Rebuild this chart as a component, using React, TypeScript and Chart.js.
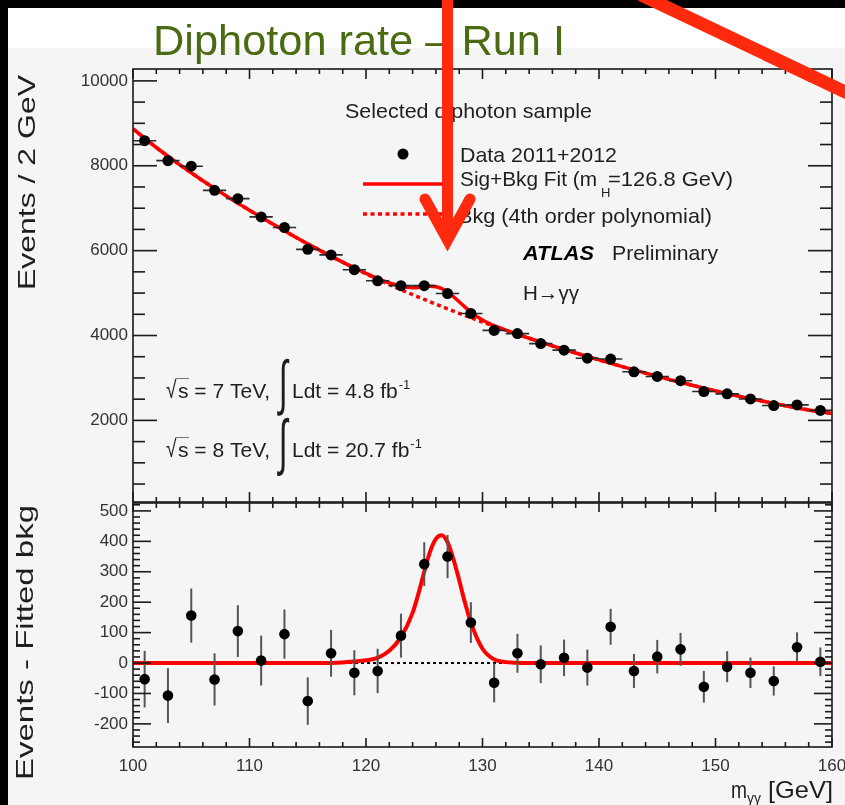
import React, { useEffect, useRef } from "react";
import { Chart, registerables } from "chart.js";

Chart.register(...registerables);

// ---------------- data ----------------
const binCenters = [101, 103, 105, 107, 109, 111, 113, 115, 117, 119, 121, 123, 125, 127, 129, 131, 133, 135, 137, 139, 141, 143, 145, 147, 149, 151, 153, 155, 157, 159];
const dataCounts = [8590, 8120, 7990, 7420, 7225, 6795, 6545, 6030, 5900, 5550, 5290, 5175, 5175, 4990, 4520, 4120, 4045, 3810, 3655, 3465, 3445, 3145, 3035, 2935, 2680, 2625, 2505, 2350, 2365, 2235];
const countErrors = [93, 90, 89, 86, 85, 82, 81, 78, 77, 74, 73, 72, 72, 71, 67, 64, 64, 62, 60, 59, 59, 56, 55, 54, 52, 51, 50, 48, 49, 47];
const binHalfWidth = 1;
const residuals = [-53, -107, 156, -54, 105, 8, 95, -125, 32, -32, -26, 90, 325, 350, 133, -65, 32, -4, 17, -15, 119, -26, 21, 45, -78, -12, -32, -59, 52, 4];

const fitMass = [100, 102, 104, 106, 108, 110, 112, 114, 116, 118, 119, 120, 121, 122, 123, 124, 124.5, 125, 125.5, 126, 126.5, 127, 127.5, 128, 128.5, 129, 130, 131, 132, 133, 134, 136, 138, 140, 142, 144, 146, 148, 150, 152, 154, 156, 158, 160];
const bkgFit = [8870, 8430, 8025, 7645, 7290, 6950, 6625, 6310, 6012, 5727, 5590, 5455, 5325, 5200, 5080, 4963, 4906, 4850, 4795, 4740, 4685, 4630, 4576, 4523, 4471, 4420, 4318, 4220, 4123, 4030, 3936, 3757, 3587, 3425, 3267, 3115, 2967, 2827, 2695, 2570, 2455, 2347, 2247, 2160];
const sigFit = [0, 0, 0, 0, 0, 0, 0, 0, 0, 2, 5, 9, 17, 40, 85, 165, 228, 300, 366, 408, 420, 397, 342, 272, 198, 133, 47, 12, 3, 1, 0, 0, 0, 0, 0, 0, 0, 0, 0, 0, 0, 0, 0, 0];

const xTickValues = [100, 110, 120, 130, 140, 150, 160];
const yTicksTop = [2000, 4000, 6000, 8000, 10000];
const yTicksBottom = [-200, -100, 0, 100, 200, 300, 400, 500];

// ---------------- styles ----------------
const FONT = '"Liberation Sans", Arial, Helvetica, sans-serif';
const TEXT = "#1e1e1e";
const FRAME = "#1a1a1a";
const RED = "#ff0000";
const TITLE = "#4a6b12";
const ARROW = "#ff2a0e";

type TOpts = { size: number; w?: number; color?: string; bold?: boolean; italic?: boolean; rot?: boolean };

function drawText(ctx: CanvasRenderingContext2D, s: string, x: number, y: number, o: TOpts): number {
  ctx.save();
  ctx.font = `${o.italic ? "italic " : ""}${o.bold ? "bold " : ""}${o.size}px ${FONT}`;
  ctx.fillStyle = o.color || TEXT;
  ctx.textAlign = "left";
  ctx.textBaseline = "alphabetic";
  const nat = ctx.measureText(s).width;
  const sx = o.w ? o.w / nat : 1;
  ctx.translate(x, y);
  if (o.rot) ctx.rotate(-Math.PI / 2);
  ctx.scale(sx, 1);
  ctx.fillText(s, 0, 0);
  ctx.restore();
  return nat * sx;
}

function drawGlyphBox(ctx: CanvasRenderingContext2D, s: string, left: number, top: number, right: number, bottom: number, size: number, color: string) {
  ctx.save();
  ctx.font = `${size}px ${FONT}`;
  ctx.fillStyle = color;
  ctx.textAlign = "left";
  ctx.textBaseline = "alphabetic";
  const m = ctx.measureText(s);
  const asc = m.actualBoundingBoxAscent, desc = m.actualBoundingBoxDescent;
  const l = m.actualBoundingBoxLeft, r = m.actualBoundingBoxRight;
  const sy = (bottom - top) / (asc + desc);
  const sx = (right - left) / (l + r);
  ctx.translate(left + l * sx, top + asc * sy);
  ctx.scale(sx, sy);
  ctx.fillText(s, 0, 0);
  ctx.restore();
}

function seg(ctx: CanvasRenderingContext2D, x1: number, y1: number, x2: number, y2: number, color: string, w: number, dash: number[] = []) {
  ctx.save();
  ctx.strokeStyle = color;
  ctx.lineWidth = w;
  ctx.setLineDash(dash);
  ctx.beginPath();
  ctx.moveTo(x1, y1);
  ctx.lineTo(x2, y2);
  ctx.stroke();
  ctx.restore();
}

function makeFrame(o: { xStep: number; yStep: number; xMaj: number; xMin: number; yMaj: number; yMin: number; lw: number }) {
  return {
    id: "rootFrame",
    afterDatasetsDraw(chart: any) {
      const { ctx, chartArea: a } = chart;
      const xs = chart.scales.x, ys = chart.scales.y;
      const majX = xs.ticks.map((t: any) => t.value);
      const majY = ys.ticks.map((t: any) => t.value);
      const isMaj = (arr: number[], v: number) => arr.some((m) => Math.abs(m - v) < 1e-6);
      ctx.save();
      ctx.strokeStyle = FRAME;
      ctx.lineWidth = o.lw;
      const line = (x1: number, y1: number, x2: number, y2: number) => {
        ctx.beginPath();
        ctx.moveTo(x1, y1);
        ctx.lineTo(x2, y2);
        ctx.stroke();
      };
      for (let v = Math.ceil(xs.min / o.xStep) * o.xStep; v <= xs.max + 1e-9; v += o.xStep) {
        const p = xs.getPixelForValue(v);
        const len = isMaj(majX, v) ? o.xMaj : o.xMin;
        line(p, a.bottom, p, a.bottom - len);
        line(p, a.top, p, a.top + len);
      }
      for (let v = Math.ceil(ys.min / o.yStep) * o.yStep; v <= ys.max + 1e-9; v += o.yStep) {
        const p = ys.getPixelForValue(v);
        const len = isMaj(majY, v) ? o.yMaj : o.yMin;
        line(a.left, p, a.left + len, p);
        line(a.right, p, a.right - len, p);
      }
      ctx.strokeRect(a.left, a.top, a.right - a.left, a.bottom - a.top);
      ctx.restore();
    },
  };
}

function makeErrorBars(o: { index: number; xs: number[]; ys: number[]; xErr?: number; yErr?: number[]; color: string; width: number }) {
  return {
    id: "errorBars",
    beforeDatasetDraw(chart: any, args: any) {
      if (args.index !== o.index) return;
      const { ctx, chartArea: a } = chart;
      const sx = chart.scales.x, sy = chart.scales.y;
      ctx.save();
      ctx.beginPath();
      ctx.rect(a.left, a.top, a.right - a.left, a.bottom - a.top);
      ctx.clip();
      ctx.strokeStyle = o.color;
      ctx.lineWidth = o.width;
      o.xs.forEach((x, i) => {
        const y = o.ys[i];
        const px = sx.getPixelForValue(x), py = sy.getPixelForValue(y);
        ctx.beginPath();
        if (o.xErr) {
          ctx.moveTo(sx.getPixelForValue(x - o.xErr), py);
          ctx.lineTo(sx.getPixelForValue(x + o.xErr), py);
        }
        if (o.yErr) {
          ctx.moveTo(px, sy.getPixelForValue(y - o.yErr[i]));
          ctx.lineTo(px, sy.getPixelForValue(y + o.yErr[i]));
        }
        ctx.stroke();
      });
      ctx.restore();
    },
  };
}

function lumiLine(ctx: CanvasRenderingContext2D, energy: string, lumi: string, base: number, iTop: number, iBot: number) {
  drawGlyphBox(ctx, "√", 166, base - 20, 177, base + 1, 21, TEXT);
  seg(ctx, 176, base - 19.5, 189, base - 19.5, "#777", 1);
  drawText(ctx, `s = ${energy} TeV,`, 178, base, { size: 21 });
  drawGlyphBox(ctx, "∫", 277, iTop, 290, iBot, 40, TEXT);
  const w = drawText(ctx, `Ldt = ${lumi} fb`, 292, base, { size: 21 });
  drawText(ctx, "-1", 292 + w + 1, base - 9, { size: 13 });
}

const topDecor = {
  id: "topDecor",
  afterDraw(chart: any) {
    const ctx: CanvasRenderingContext2D = chart.ctx;
    drawText(ctx, "Diphoton rate – Run I", 153, 55, { size: 42, w: 412, color: TITLE });
    drawText(ctx, "Events / 2 GeV", 35, 290, { size: 24, w: 215, rot: true });
    // legend
    drawText(ctx, "Selected diphoton sample", 345, 118, { size: 21, w: 247 });
    ctx.save();
    ctx.fillStyle = "#000";
    ctx.beginPath();
    ctx.arc(403, 154, 5.5, 0, Math.PI * 2);
    ctx.fill();
    ctx.restore();
    drawText(ctx, "Data 2011+2012", 460, 162, { size: 21, w: 157 });
    seg(ctx, 363, 184, 446, 184, RED, 3.5);
    drawText(ctx, "Sig+Bkg Fit (m", 460, 186, { size: 21, w: 137 });
    drawText(ctx, "H", 601, 197, { size: 13 });
    drawText(ctx, "=126.8 GeV)", 608, 186, { size: 21, w: 125 });
    seg(ctx, 363, 214, 446, 214, RED, 3.5, [4, 3.5]);
    drawText(ctx, "Bkg (4th order polynomial)", 458, 223, { size: 21, w: 254 });
    drawText(ctx, "ATLAS", 523, 260, { size: 21, w: 71, bold: true, italic: true, color: "#000" });
    drawText(ctx, "Preliminary", 612, 260, { size: 21, w: 106 });
    drawText(ctx, "H→γγ", 523, 300, { size: 21, w: 56 });
    lumiLine(ctx, "7", "4.8", 398, 358, 417);
    lumiLine(ctx, "8", "20.7", 457, 417, 477);
  },
};

const bottomDecor = {
  id: "bottomDecor",
  afterDraw(chart: any) {
    const ctx: CanvasRenderingContext2D = chart.ctx;
    drawText(ctx, "Events - Fitted bkg", 33, 295, { size: 24, w: 275, rot: true });
    drawText(ctx, "m", 731, 313, { size: 23, w: 16 });
    drawText(ctx, "γγ", 747, 318, { size: 14, w: 14 });
    drawText(ctx, "[GeV]", 768, 313, { size: 24, w: 65 });
  },
};

const tickFont = { family: FONT, size: 17 };

function topConfig(): any {
  return {
    type: "scatter",
    data: {
      datasets: [
        {
          label: "Data 2011+2012",
          data: binCenters.map((x, i) => ({ x, y: dataCounts[i] })),
          pointRadius: 5.5,
          pointBackgroundColor: "#000",
          pointBorderWidth: 0,
          showLine: false,
        },
        {
          label: "Sig+Bkg Fit",
          data: fitMass.map((x, i) => ({ x, y: bkgFit[i] + sigFit[i] })),
          showLine: true,
          borderColor: RED,
          borderWidth: 3.5,
          pointRadius: 0,
          cubicInterpolationMode: "monotone",
        },
        {
          label: "Bkg",
          data: fitMass.map((x, i) => ({ x, y: bkgFit[i] })),
          showLine: true,
          borderColor: RED,
          borderWidth: 3.5,
          borderDash: [4, 3.5],
          pointRadius: 0,
          cubicInterpolationMode: "monotone",
        },
      ],
    },
    options: {
      animation: false,
      responsive: false,
      maintainAspectRatio: false,
      events: [],
      layout: { padding: { left: 0, right: 13, top: 69, bottom: 0 } },
      plugins: { legend: { display: false }, tooltip: { enabled: false }, title: { display: false } },
      scales: {
        x: {
          type: "linear",
          min: 100,
          max: 160,
          grid: { display: false, drawTicks: false },
          border: { display: false },
          ticks: { display: false },
          afterBuildTicks: (s: any) => { s.ticks = xTickValues.map((v) => ({ value: v })); },
          afterFit: (s: any) => { s.height = 18; },
        },
        y: {
          type: "linear",
          min: 77,
          max: 10280,
          grid: { display: false, drawTicks: false },
          border: { display: false },
          ticks: { font: tickFont, color: "#333", padding: 5, callback: (v: any) => String(v) },
          afterBuildTicks: (s: any) => { s.ticks = yTicksTop.map((v) => ({ value: v })); },
          afterFit: (s: any) => { s.width = 133; },
        },
      },
    },
    plugins: [
      makeErrorBars({ index: 0, xs: binCenters, ys: dataCounts, xErr: binHalfWidth, yErr: countErrors, color: "#2a2a2a", width: 1.6 }),
      makeFrame({ xStep: 2, yStep: 500, xMaj: 10, xMin: 5, yMaj: 24, yMin: 12, lw: 1.6 }),
      topDecor,
    ],
  };
}

function bottomConfig(): any {
  return {
    type: "scatter",
    data: {
      datasets: [
        {
          label: "Data - bkg",
          data: binCenters.map((x, i) => ({ x, y: residuals[i] })),
          pointRadius: 5.3,
          pointBackgroundColor: "#000",
          pointBorderWidth: 0,
          showLine: false,
        },
        {
          label: "Signal",
          data: fitMass.map((x, i) => ({ x, y: sigFit[i] })),
          showLine: true,
          borderColor: RED,
          borderWidth: 4,
          pointRadius: 0,
          cubicInterpolationMode: "monotone",
        },
        {
          label: "Bkg",
          data: [{ x: 100, y: 0 }, { x: 160, y: 0 }],
          showLine: true,
          borderColor: "#000",
          borderWidth: 2,
          borderDash: [3, 3],
          pointRadius: 0,
        },
      ],
    },
    options: {
      animation: false,
      responsive: false,
      maintainAspectRatio: false,
      events: [],
      layout: { padding: { left: 0, right: 38, top: 18, bottom: 0 } },
      plugins: { legend: { display: false }, tooltip: { enabled: false }, title: { display: false } },
      scales: {
        x: {
          type: "linear",
          min: 100,
          max: 160,
          grid: { display: false, drawTicks: false },
          border: { display: false },
          ticks: { font: tickFont, color: "#333", padding: 9, maxRotation: 0, callback: (v: any) => String(v) },
          afterBuildTicks: (s: any) => { s.ticks = xTickValues.map((v) => ({ value: v })); },
          afterFit: (s: any) => { s.height = 58; },
        },
        y: {
          type: "linear",
          min: -276,
          max: 526,
          grid: { display: false, drawTicks: false },
          border: { display: false },
          ticks: { font: tickFont, color: "#333", padding: 5, callback: (v: any) => String(v) },
          afterBuildTicks: (s: any) => { s.ticks = yTicksBottom.map((v) => ({ value: v })); },
          afterFit: (s: any) => { s.width = 133; },
        },
      },
    },
    plugins: [
      makeErrorBars({ index: 0, xs: binCenters, ys: residuals, yErr: countErrors, color: "#555", width: 2 }),
      makeFrame({ xStep: 2, yStep: 20, xMaj: 9, xMin: 5, yMaj: 18, yMin: 7, lw: 1.6 }),
      bottomDecor,
    ],
  };
}

export default function App() {
  const topRef = useRef<HTMLCanvasElement>(null);
  const botRef = useRef<HTMLCanvasElement>(null);

  useEffect(() => {
    const c1 = new Chart(topRef.current as HTMLCanvasElement, topConfig());
    const c2 = new Chart(botRef.current as HTMLCanvasElement, bottomConfig());
    return () => {
      c1.destroy();
      c2.destroy();
    };
  }, []);

  return (
    <div style={{ position: "fixed", left: 0, top: 0, width: 845, height: 805, overflow: "hidden", background: "#f5f5f5" }}>
      <div style={{ position: "absolute", left: 0, top: 8, width: 845, height: 40, background: "#ffffff" }} />
      <canvas ref={topRef} width={845} height={520} style={{ position: "absolute", left: 0, top: 0, width: 845, height: 520 }} />
      <canvas ref={botRef} width={870} height={320} style={{ position: "absolute", left: 0, top: 485, width: 870, height: 320 }} />
      <div style={{ position: "absolute", left: 0, top: 0, width: 845, height: 8, background: "#000" }} />
      <div style={{ position: "absolute", left: 0, top: 0, width: 8, height: 805, background: "#000" }} />
      <svg width={845} height={805} style={{ position: "absolute", left: 0, top: 0 }}>
        <line x1={447.5} y1={-5} x2={447.5} y2={238} stroke={ARROW} strokeWidth={11} />
        <polyline points="425,199 447.5,240 470,199" fill="none" stroke={ARROW} strokeWidth={11} strokeLinejoin="miter" strokeLinecap="round" />
        <line x1={641} y1={-5} x2={860} y2={99} stroke={ARROW} strokeWidth={13} />
      </svg>
    </div>
  );
}
